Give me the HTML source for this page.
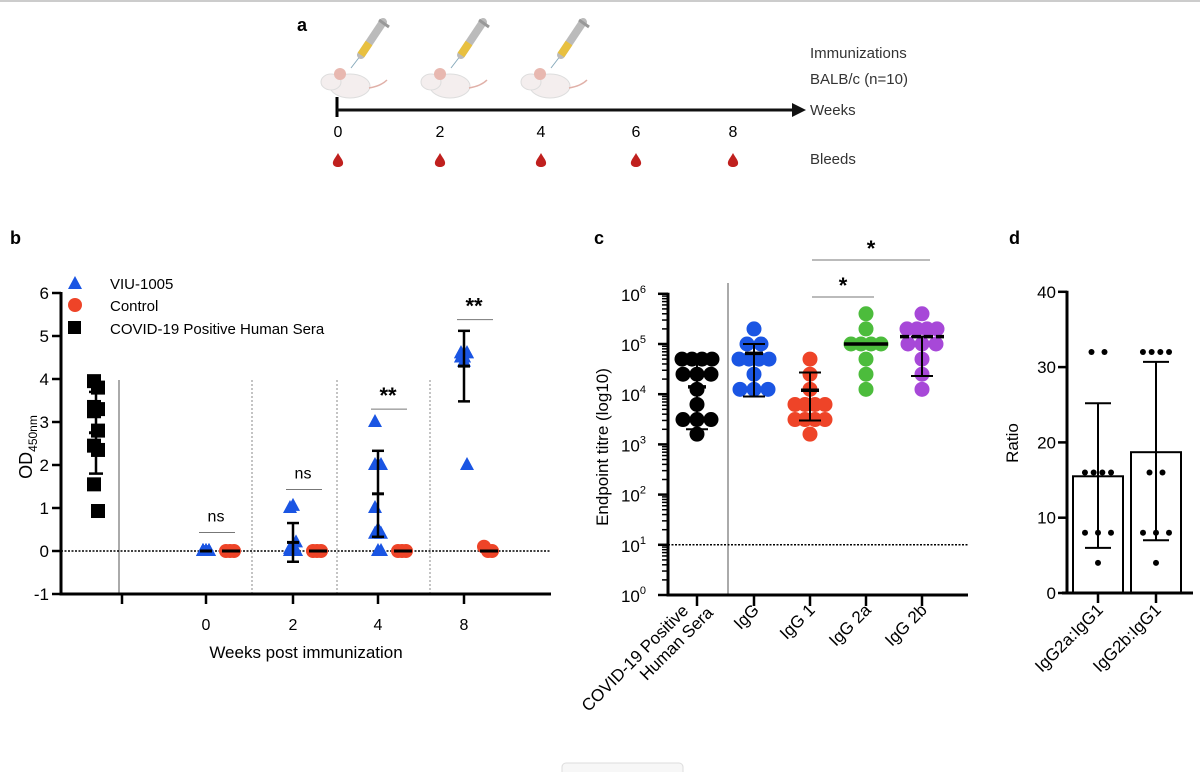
<!DOCTYPE html>
<html><head><meta charset="utf-8"><style>
body{margin:0;background:#fff;width:1200px;height:772px;overflow:hidden;font-family:"Liberation Sans",sans-serif}
svg text{font-family:"Liberation Sans",sans-serif}
</style></head><body>
<svg id="fig" width="1200" height="772" viewBox="0 0 1200 772" xmlns="http://www.w3.org/2000/svg">
<line x1="0" y1="1" x2="1200" y2="1" stroke="#ccc" stroke-width="2"/>
<rect x="562" y="763" width="121" height="14" rx="4" fill="#f7f7f7" stroke="#ddd"/>
<g id="pa"></g>
<g id="pb"></g>
<g id="pc"></g>
<g id="pd"></g>
</svg>
<script>
// ---- Panel b data ----
const bWeeks=["0","2","4","8"];
const bVIU=[[0,0,0,0,0,0,0,0,0,0],[1.0,1.05,0.2,0,0,0,0,0,0,0.05],[3.0,2.0,2.0,1.0,0.5,0.4,0.4,0,0,2.0],[4.6,4.5,4.6,4.5,4.4,4.6,4.5,4.5,2.0,4.6]];
const bVIUmean=[0,0.2,1.33,4.3];
const bVIUsd=[0,0.45,1.0,0.82];
const bCtrl=[[0,0,0],[0,0,0],[0,0,0],[0.1,0,0]];
const bSera=[3.95,3.8,3.35,3.3,3.25,2.8,2.45,2.35,1.55,0.93];
const bSeraMean=2.75, bSeraSd=0.95;
const bSig=["ns","ns","**","**"];
const bSigY=[0.43,1.43,3.3,5.38];
const bTicks=[-1,0,1,2,3,4,5,6];
// ---- Panel c data ----
const cCats=["COVID-19 Positive|Human Sera","IgG","IgG 1","IgG 2a","IgG 2b"];
const cColors=["#000","#1a55e3","#ee4428","#4cbc3c","#a748d8"];
const cVals=[
 [50000,50000,50000,50000,25000,25000,25000,12500,6250,3125,3125,3125,1600],
 [200000,100000,100000,50000,50000,50000,50000,25000,12500,12500,12500],
 [50000,25000,12500,6250,6250,6250,6250,3125,3125,3125,3125,1600],
 [400000,200000,100000,100000,100000,100000,50000,25000,12500],
 [400000,200000,200000,200000,200000,100000,100000,100000,50000,25000,12500]];
const cMean=[14000,65000,12000,100000,140000];
const cLo=[2000,9000,3000,100000,23000];
const cHi=[50000,100000,27000,100000,140000];
const cExp=[0,1,2,3,4,5,6];
// ---- Panel d data ----
const dCats=["IgG2a:IgG1","IgG2b:IgG1"];
const dMean=[15.5,18.7];
const dLo=[6,7];
const dHi=[25.2,30.7];
const dPts=[[32,32,16,16,16,16,8,8,8,4],[32,32,32,32,16,16,8,8,8,4]];
const dTicks=[0,10,20,30,40];

const NS="http://www.w3.org/2000/svg";
function mk(p,t,a,txt){const e=document.createElementNS(NS,t);for(const k in a)e.setAttribute(k,a[k]);if(txt!==undefined)e.textContent=txt;p.appendChild(e);return e;}
const K="#000";

// ===== Panel A =====
const A=document.getElementById('pa');
let e=mk(A,'text',{x:297,y:31,'font-size':18,'font-weight':'bold'},'a');

mk(A,'line',{x1:337,y1:97,x2:337,y2:117,stroke:K,'stroke-width':3});
e=mk(A,'line',{x1:337,y1:110,x2:795,y2:110,stroke:'#111','stroke-width':3});

mk(A,'polygon',{points:'792,103 806,110 792,117',fill:'#111'});
const aw=["0","2","4","6","8"],ax=[338,440,541,636,733];
aw.forEach((w,i)=>{
 const t=mk(A,'text',{x:ax[i],y:137,'font-size':16,'text-anchor':'middle'},w);
 
 const d=mk(A,'path',{d:`M${ax[i]},${153} C${ax[i]-2},${157} ${ax[i]-6},${161} ${ax[i]-5},${164} C${ax[i]-4},${168} ${ax[i]+4},${168} ${ax[i]+5},${164} C${ax[i]+6},${161} ${ax[i]+2},${157} ${ax[i]},${153}Z`,fill:'#c0201e'});
 
});
[345,445,545].forEach((mx,i)=>{
 const g=mk(A,'g',{});
 
 mk(g,'ellipse',{cx:mx+5,cy:86,rx:20,ry:12,fill:'#f4eeee',stroke:'#ddd'});
 mk(g,'ellipse',{cx:mx-14,cy:82,rx:10,ry:8,fill:'#f4eeee',stroke:'#ddd'});
 mk(g,'circle',{cx:mx-5,cy:74,r:6,fill:'#e8b8b0'});
 mk(g,'path',{d:`M${mx+24},${88} q12,-2 18,-8`,stroke:'#e0b0a8',fill:'none','stroke-width':1.5});
 mk(g,'line',{x1:mx+6,y1:68,x2:mx+16,y2:55,stroke:'#8ab','stroke-width':1});
 mk(g,'line',{x1:mx+16,y1:55,x2:mx+38,y2:22,stroke:'#bbb','stroke-width':8,'stroke-linecap':'round'});
 mk(g,'line',{x1:mx+16,y1:55,x2:mx+24,y2:43,stroke:'#e8c040','stroke-width':8});
 mk(g,'line',{x1:mx+34,y1:20,x2:mx+44,y2:27,stroke:'#999','stroke-width':3});
});
[["Immunizations",58],["BALB/c (n=10)",84],["Weeks",115],["Bleeds",164]].forEach(([s,y])=>{
 const t=mk(A,'text',{x:810,y:y,'font-size':15,fill:'#333'},s);
 
});

// ===== Panel B =====
const B=document.getElementById('pb');
const bY=v=>551-(v*43);
const bX0=61,bX1=551;
const bTickX=[122,206,293,378,464];
e=mk(B,'text',{x:10,y:244,'font-size':18,'font-weight':'bold'},'b');

mk(B,'line',{x1:119,y1:380,x2:119,y2:594,stroke:'#555','stroke-width':1});
[252,337,430].forEach(x=>mk(B,'line',{x1:x,y1:380,x2:x,y2:594,stroke:'#888','stroke-width':1,'stroke-dasharray':'2,2'}));
e=mk(B,'line',{x1:bX0,y1:bY(0),x2:bX1,y2:bY(0),stroke:K,'stroke-width':1.5,'stroke-dasharray':'2,1.5'});

e=mk(B,'line',{x1:bX0,y1:bY(6)-1,x2:bX0,y2:bY(-1)+1.5,stroke:K,'stroke-width':3});

e=mk(B,'line',{x1:bX0,y1:bY(-1),x2:bX1,y2:bY(-1),stroke:K,'stroke-width':3});

bTicks.forEach(t=>{mk(B,'line',{x1:bX0-9,y1:bY(t),x2:bX0,y2:bY(t),stroke:K,'stroke-width':2.5});
 const tt=mk(B,'text',{x:bX0-12,y:bY(t)+6,'font-size':17,'text-anchor':'end'},String(t));
 });
bTickX.forEach((x,i)=>{mk(B,'line',{x1:x,y1:bY(-1),x2:x,y2:bY(-1)+10,stroke:K,'stroke-width':2.5});
 if(i>0){const tt=mk(B,'text',{x:x,y:630,'font-size':16,'text-anchor':'middle'},bWeeks[i-1]);
 }});
e=mk(B,'text',{x:306,y:658,'font-size':17,'text-anchor':'middle'},'Weeks post immunization');

e=mk(B,'text',{transform:'translate(32,447) rotate(-90)','font-size':18,'text-anchor':'middle'});

e.innerHTML='OD<tspan font-size="12" dy="5">450nm</tspan>';
function tri(p,x,y,c){const m=mk(p,'polygon',{points:`${x},${y-8} ${x-7},${y+5} ${x+7},${y+5}`,fill:c});return m;}
function errbar(p,x,m,lo,hi,Y,w){mk(p,'line',{x1:x,y1:Y(lo),x2:x,y2:Y(hi),stroke:K,'stroke-width':2.5});
 [lo,hi].forEach(v=>mk(p,'line',{x1:x-w/2,y1:Y(v),x2:x+w/2,y2:Y(v),stroke:K,'stroke-width':2.5}));
 mk(p,'line',{x1:x-w/2,y1:Y(m),x2:x+w/2,y2:Y(m),stroke:K,'stroke-width':3});}
bSera.forEach((v,i)=>{const r=mk(B,'rect',{x:96-7+(i%2?2:-2),y:bY(v)-7,width:14,height:14,fill:K});
 });
errbar(B,96,bSeraMean,bSeraMean-bSeraSd,bSeraMean+bSeraSd,bY,14);
bWeeks.forEach((w,i)=>{
 const x=bTickX[i+1];
 bVIU[i].forEach((v,j)=>{const m=tri(B,x+((j%3)-1)*3,bY(v),'#1a55e3');
  });
 bCtrl[i].forEach((v,j)=>{const c=mk(B,'circle',{cx:x+24+(j-1)*4,cy:bY(v),r:7,fill:'#ee4428'});
  });
 mk(B,'line',{x1:x+16,y1:bY(0),x2:x+34,y2:bY(0),stroke:K,'stroke-width':3});
 if(bVIUsd[i]>0) errbar(B,x,bVIUmean[i],bVIUmean[i]-bVIUsd[i],bVIUmean[i]+bVIUsd[i],bY,12);
 else mk(B,'line',{x1:x-6,y1:bY(0),x2:x+6,y2:bY(0),stroke:K,'stroke-width':3});
 const cx=x+10;
 mk(B,'line',{x1:cx-17,y1:bY(bSigY[i]),x2:cx+19,y2:bY(bSigY[i]),stroke:'#777','stroke-width':1});
 const s=mk(B,'text',{x:cx,y:bY(bSigY[i])-(bSig[i]==='ns'?11:6),'font-size':bSig[i]==='ns'?16:22,'font-weight':bSig[i]==='ns'?'normal':'bold','text-anchor':'middle'},bSig[i]);
 
});
const lg=mk(B,'g',{});
tri(lg,75,284,'#1a55e3');mk(lg,'circle',{cx:75,cy:305,r:7,fill:'#ee4428'});mk(lg,'rect',{x:68,y:321,width:13,height:13,fill:K});
[["VIU-1005",289],["Control",311],["COVID-19 Positive Human Sera",334]].forEach(([s,y])=>{const t=mk(lg,'text',{x:110,y:y,'font-size':15},s);
 });

// ===== Panel C =====
const C=document.getElementById('pc');
const cY=v=>595-Math.log10(v)*50.2;
const cX0=668,cX1=968;
const cTickX=[697,754,810,866,922];
e=mk(C,'text',{x:594,y:244,'font-size':18,'font-weight':'bold'},'c');

mk(C,'line',{x1:728,y1:283,x2:728,y2:595,stroke:'#555','stroke-width':1});
e=mk(C,'line',{x1:cX0,y1:cY(10),x2:cX1,y2:cY(10),stroke:K,'stroke-width':1.5,'stroke-dasharray':'2,1.5'});

e=mk(C,'line',{x1:cX0,y1:cY(1e6)-1,x2:cX0,y2:cY(1)+1.5,stroke:K,'stroke-width':3});

e=mk(C,'line',{x1:cX0,y1:cY(1),x2:cX1,y2:cY(1),stroke:K,'stroke-width':3});

cExp.forEach(p=>{mk(C,'line',{x1:cX0-10,y1:cY(10**p),x2:cX0,y2:cY(10**p),stroke:K,'stroke-width':2.5});
 if(p<6)for(let m=2;m<10;m++)mk(C,'line',{x1:cX0-6,y1:cY(m*10**p),x2:cX0,y2:cY(m*10**p),stroke:K,'stroke-width':1.5});
 const t=mk(C,'text',{x:cX0-22,y:cY(10**p)+7,'font-size':17,'text-anchor':'end'});
 
 t.innerHTML='10<tspan font-size="11" dy="-8">'+p+'</tspan>';});
e=mk(C,'text',{transform:'translate(608,447) rotate(-90)','font-size':17,'text-anchor':'middle'},'Endpoint titre (log10)');

cCats.forEach((cat,i)=>{
 const x=cTickX[i];
 mk(C,'line',{x1:x,y1:cY(1),x2:x,y2:cY(1)+11,stroke:K,'stroke-width':2.5});
 const lines=cat.split('|');
 const t=mk(C,'text',{transform:`translate(${x+6},${611}) rotate(-45)`,'font-size':17,'text-anchor':'end'});
 
 lines.forEach((l,k)=>{mk(t,'tspan',{x:0,dy:k?19:0},l);});
 if(lines.length>1){t.setAttribute('transform',`translate(${x-2},${606}) rotate(-45)`);t.firstChild.setAttribute('x','-8');t.lastChild.setAttribute('x','8');}
 const cnt={};
 cVals[i].forEach(v=>{cnt[v]=(cnt[v]||0)+1;});
 const seen={};
 cVals[i].forEach(v=>{const n=cnt[v],k=(seen[v]=(seen[v]||0)+1)-1;
  const dx=(k-(n-1)/2)*(n>3?10:14);
  const c=mk(C,'circle',{cx:x+dx,cy:cY(v),r:7.5,fill:cColors[i]});
  });
 mk(C,'line',{x1:x,y1:cY(cLo[i]),x2:x,y2:cY(cHi[i]),stroke:K,'stroke-width':2});
 [cLo[i],cHi[i]].forEach(v=>mk(C,'line',{x1:x-11,y1:cY(v),x2:x+11,y2:cY(v),stroke:K,'stroke-width':2}));
 mk(C,'line',{x1:x-(i>=3?22:9),y1:cY(cMean[i]),x2:x+(i>=3?22:9),y2:cY(cMean[i]),stroke:K,'stroke-width':3.5,'stroke-dasharray':i===4?'9,3':'none'});
});
[[cTickX[2],cTickX[3],297],[cTickX[2],cTickX[4],260]].forEach(([a,b,y])=>{
 mk(C,'line',{x1:a+2,y1:y,x2:b+8,y2:y,stroke:'#777','stroke-width':1});
 const s=mk(C,'text',{x:(a+b)/2+5,y:y-4,'font-size':22,'font-weight':'bold','text-anchor':'middle'},'*');
 });

// ===== Panel D =====
const D=document.getElementById('pd');
const dY=v=>593-v*7.53;
const dX0=1067,dX1=1193,dCX=[1098,1156],bw=50;
e=mk(D,'text',{x:1009,y:244,'font-size':18,'font-weight':'bold'},'d');

e=mk(D,'text',{transform:'translate(1018,443) rotate(-90)','font-size':17,'text-anchor':'middle'},'Ratio');

dCats.forEach((cat,i)=>{
 const x=dCX[i];
 const r=mk(D,'rect',{x:x-bw/2,y:dY(dMean[i]),width:bw,height:dY(0)-dY(dMean[i]),fill:'#fff',stroke:K,'stroke-width':2});
 
 mk(D,'line',{x1:x,y1:dY(dLo[i]),x2:x,y2:dY(dHi[i]),stroke:K,'stroke-width':2});
 [dLo[i],dHi[i]].forEach(v=>mk(D,'line',{x1:x-13,y1:dY(v),x2:x+13,y2:dY(v),stroke:K,'stroke-width':2}));
 const cnt={},seen={};dPts[i].forEach(v=>cnt[v]=(cnt[v]||0)+1);
 dPts[i].forEach(v=>{const n=cnt[v],k=(seen[v]=(seen[v]||0)+1)-1;
  const c=mk(D,'circle',{cx:x+(k-(n-1)/2)*(n>3?8.7:(n===1?0:13)),cy:dY(v),r:3,fill:K});
  });
 mk(D,'line',{x1:x,y1:dY(0),x2:x,y2:dY(0)+10,stroke:K,'stroke-width':2.5});
 const t=mk(D,'text',{transform:`translate(${x+6},${611}) rotate(-45)`,'font-size':17,'text-anchor':'end'},cat);
 
});
e=mk(D,'line',{x1:dX0,y1:dY(40)-1,x2:dX0,y2:dY(0)+1.5,stroke:K,'stroke-width':3});

e=mk(D,'line',{x1:dX0-5,y1:dY(0),x2:dX1,y2:dY(0),stroke:K,'stroke-width':3});

dTicks.forEach(t=>{mk(D,'line',{x1:dX0-9,y1:dY(t),x2:dX0,y2:dY(t),stroke:K,'stroke-width':2.5});
 const tt=mk(D,'text',{x:dX0-11,y:dY(t)+6,'font-size':17,'text-anchor':'end'},String(t));
 });
</script>
</body></html>
